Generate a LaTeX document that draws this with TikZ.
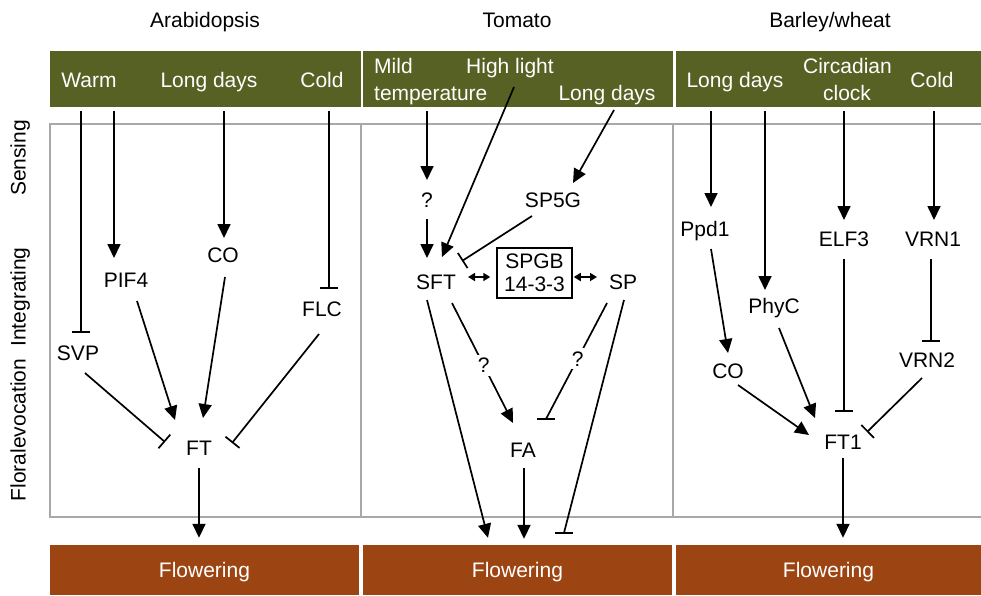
\documentclass[tikz,border=0pt]{standalone}
\usepackage{fontspec}
\setmainfont{Liberation Sans}
\usetikzlibrary{arrows.meta,calc}
\definecolor{leaf}{RGB}{86,97,35}
\definecolor{rust}{RGB}{156,69,19}
\definecolor{framegray}{RGB}{168,168,168}
\begin{document}
\begin{tikzpicture}[x=1pt,y=-1pt,
  font=\fontsize{21}{25}\selectfont,
  lbl/.style={inner sep=0pt,text height=15pt,text depth=0pt},
  hdr/.style={lbl,text=white},
  link/.style={line width=1.7pt},
  act/.style={link,-{Triangle[length=14pt,width=13pt]}},
  inh/.style={link,-{Bar[width=18pt]}},
  both/.style={link,{Triangle[length=7pt,width=8pt]}-{Triangle[length=7pt,width=8pt]}},
  qmark/.style={lbl,fill=white,inner sep=3pt},
  band/.style={minimum height=50pt,inner sep=0pt,text=white,text height=15pt,text depth=0pt}]
\useasboundingbox (0,0) rectangle (981,595);

% panel frame and dividers
\draw[framegray,line width=1.5pt] (981,124) -- (50,124) -- (50,517) -- (981,517);
\draw[framegray,line width=1.5pt] (361,124) -- (361,517) (673,124) -- (673,517);

% header bands
\fill[leaf] (50,51) rectangle (361,107);
\fill[leaf] (363,51) rectangle (673,107);
\fill[leaf] (676,51) rectangle (981,107);

% flowering bands
\node[band,fill=rust,minimum width=309pt] (flowA) at (204.5,570) {Flowering};
\node[band,fill=rust,minimum width=309pt] (flowB) at (517.5,570) {Flowering};
\node[band,fill=rust,minimum width=305pt] (flowC) at (828.5,570) {Flowering};

% titles
\node[lbl] (tA) at (205,20) {Arabidopsis};
\node[lbl] (tB) at (517,20) {Tomato};
\node[lbl] (tC) at (830,20) {Barley/wheat};

% stage labels
\node[lbl,rotate=90] (sensing) at (18,158) {Sensing};
\node[lbl,rotate=90] (integrating) at (18,297) {Integrating};
\node[lbl,rotate=90] (evocation) at (18,430) {Floralevocation};

% ---------------- Arabidopsis ----------------
\node[hdr] (warm) at (89,80) {Warm};
\node[hdr] (ldA) at (209,80) {Long days};
\node[hdr] (coldA) at (322,80) {Cold};

\node[lbl] (pif4) at (126,280) {PIF4};
\node[lbl] (coA) at (223,255) {CO};
\node[lbl] (flc) at (322,309) {FLC};
\node[lbl] (svp) at (78,353) {SVP};
\node[lbl] (ft) at (199,448) {FT};

\draw[inh] ($(warm)+(-8,31)$) -- ($(svp)+(3,-20)$);
\draw[act] ($(warm)+(25,31)$) -- ($(pif4)+(-12,-22)$);
\draw[act] ($(ldA)+(15,31)$) -- ($(coA)+(1,-17)$);
\draw[inh] ($(coldA)+(7,31)$) -- ($(flc)+(7,-20)$);
\draw[act] ($(pif4)+(11,21)$) -- ($(ft)+(-24,-28)$);
\draw[act] ($(coA)+(2,22)$) -- ($(ft)+(4,-30)$);
\draw[inh] ($(svp)+(7,20)$) -- ($(ft)+(-34,-6)$);
\draw[inh] ($(flc)+(-3,25)$) -- ($(ft)+(33,-5)$);
\draw[act] ($(ft)+(0,20)$) -- ($(flowA.north)+(-5.5,-7)$);

% ---------------- Tomato ----------------
\node[hdr,anchor=west] (mild) at (374,66) {Mild};
\node[hdr,anchor=west] (temp) at (374,93) {temperature};
\node[hdr] (high) at (510,66) {High light};
\node[hdr] (ldB) at (607,93) {Long days};

\node[lbl] (qB1) at (427,200) {?};
\node[lbl] (sp5g) at (553,200) {SP5G};
\node[lbl] (sft) at (436,282) {SFT};
\node[draw,line width=1.5pt,minimum width=75pt,minimum height=50pt,inner sep=0pt,
      align=center,font=\fontsize{21}{23}\selectfont] (box) at (534.5,273) {SPGB\\14-3-3};
\node[lbl] (sp) at (623,282) {SP};
\node[lbl] (fa) at (523,450) {FA};

\draw[act] ($(temp.west)+(53,18)$) -- ($(qB1)+(0,-20)$);
\draw[act] ($(qB1)+(0,19)$) -- ($(sft)+(-9,-24)$);
\draw[act] ($(high)+(4,21)$) -- ($(sft)+(6,-25)$);
\draw[act] ($(ldB)+(7,17)$) -- ($(sp5g)+(20,-17)$);
\draw[inh] ($(sp5g)+(-21,16)$) -- ($(sft)+(26,-21)$);
\draw[both] ($(sft)+(32,-5)$) -- ($(box.west)+(-6,4)$);
\draw[both] ($(box.east)+(1,4)$) -- ($(sp)+(-26,-5)$);
\draw[act] ($(sft)+(-9,18)$) -- ($(flowB.north)+(-29.5,-7)$);
\draw[act] ($(sft)+(16,21)$) -- node[qmark,pos=0.52] (qB2) {?} ($(fa)+(-10,-27)$);
\coordinate (faStop) at ($(fa)+(23,-31)$);
\draw[link] ($(sp)+(-16,21)$) -- node[qmark,pos=0.48] (qB3) {?} (faStop);
\draw[link] ($(faStop)+(-9,0)$) -- ($(faStop)+(9,0)$);
\draw[act] ($(fa)+(1,18)$) -- ($(flowB.north)+(6.5,-6)$);
\coordinate (flowStop) at ($(flowB.north)+(46.5,-12)$);
\draw[link] ($(sp)+(1,18)$) -- (flowStop);
\draw[link] ($(flowStop)+(-9,0)$) -- ($(flowStop)+(9,0)$);

% ---------------- Barley / wheat ----------------
\node[hdr] (ldC) at (735,80) {Long days};
\node[hdr] (circ) at (847.5,66) {Circadian};
\node[hdr] (clock) at (847,93) {clock};
\node[hdr] (coldC) at (932,80) {Cold};

\node[lbl] (ppd1) at (705,229) {Ppd1};
\node[lbl] (phyc) at (774,306) {PhyC};
\node[lbl] (elf3) at (844,239) {ELF3};
\node[lbl] (vrn1) at (933,239) {VRN1};
\node[lbl] (coC) at (728,371) {CO};
\node[lbl] (vrn2) at (927,360) {VRN2};
\node[lbl] (ft1) at (843,442) {FT1};

\draw[act] ($(ldC)+(-24,31)$) -- ($(ppd1)+(6,-22)$);
\draw[act] ($(ldC)+(30,31)$) -- ($(phyc)+(-9,-16)$);
\draw[act] ($(clock)+(-3,18)$) -- ($(elf3)+(0,-19)$);
\draw[act] ($(coldC)+(2,31)$) -- ($(vrn1)+(1,-19)$);
\draw[act] ($(ppd1)+(6,20)$) -- ($(coC)+(0,-18)$);
\draw[act] ($(phyc)+(5,22)$) -- ($(ft1)+(-28,-24)$);
\draw[act] ($(coC)+(10,14)$) -- ($(ft1)+(-34,-7)$);
\draw[inh] ($(elf3)+(0,20)$) -- ($(ft1)+(1,-30)$);
\draw[inh] ($(vrn1)+(-2,20)$) -- ($(vrn2)+(4,-18)$);
\draw[inh] ($(vrn2)+(-5,18)$) -- ($(ft1)+(24,-10)$);
\draw[act] ($(ft1)+(0,16)$) -- ($(flowC.north)+(14.5,-7)$);
\end{tikzpicture}
\end{document}
